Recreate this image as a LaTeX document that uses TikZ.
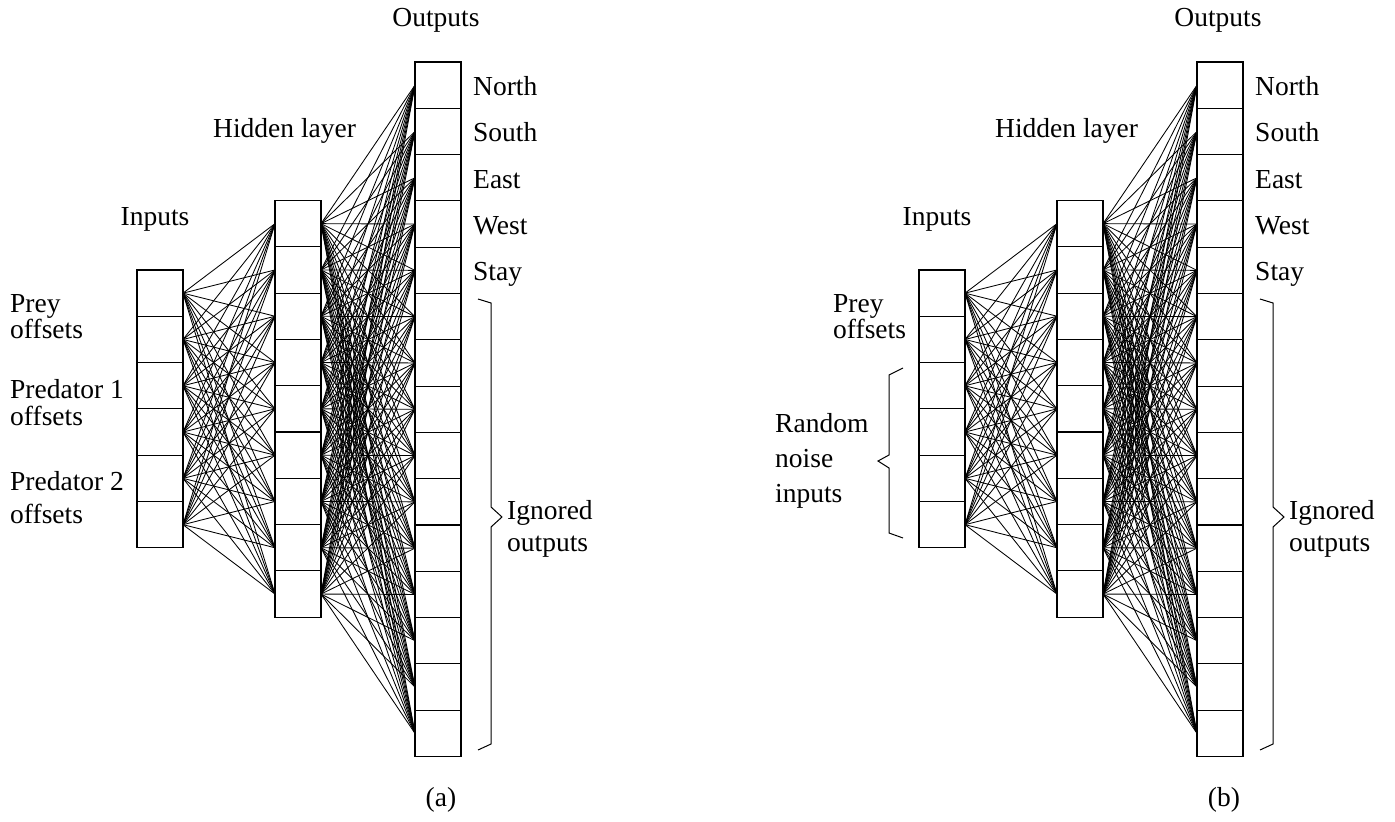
\documentclass[tikz,border=0pt]{standalone}
\usepackage{fontspec}
\setmainfont{Liberation Serif}
\begin{document}
\begin{tikzpicture}[x=1pt,y=-1pt,
  cell/.style={draw,line width=1.1pt,minimum width=46pt,minimum height=46.3pt,inner sep=0pt,outer sep=0pt},
  wire/.style={line width=0.85pt},
  lab/.style={font=\fontsize{27.5}{30}\selectfont,inner sep=0pt,anchor=base west},
  labc/.style={lab,anchor=base},
  bracket/.style={line width=1pt,line join=miter}]
\useasboundingbox (0,0) rectangle (1395,822);
\foreach \p/\dx in {a/0,b/782} {
  \foreach \i in {1,...,6}
    \node[cell] (\p-in-\i) at ({160+\dx},{270+46.3*(\i-0.5)}) {};
  \foreach \j in {1,...,9}
    \node[cell] (\p-hid-\j) at ({298+\dx},{200.5+46.3*(\j-0.5)}) {};
  \foreach \k in {1,...,15}
    \node[cell] (\p-out-\k) at ({438+\dx},{62+46.3*(\k-0.5)}) {};
  \foreach \i in {1,...,6}
    \foreach \j in {1,...,9}
      \draw[wire] (\p-in-\i.east) -- (\p-hid-\j.west);
  \foreach \j in {1,...,9}
    \foreach \k in {1,...,15}
      \draw[wire] (\p-hid-\j.east) -- (\p-out-\k.west);
  \foreach \t [count=\k] in {North,South,East,West,Stay}
    \node[lab] (\p-olab-\k) at ({473+\dx},{62+46.3*(\k-0.5)+10.5}) {\t};
  \node[labc] (\p-outputs) at ({436+\dx},26) {Outputs};
  \node[lab] (\p-hidden) at ({213+\dx},137) {Hidden layer};
  \node[labc] (\p-inputs) at ({155+\dx},225) {Inputs};
  \node[lab] (\p-ign1) at ({507+\dx},519) {Ignored};
  \node[lab] (\p-ign2) at ({507+\dx},551) {outputs};
  \draw[bracket] ({478+\dx},299) -- ({491+\dx},303) -- ({491+\dx},507) -- ({502+\dx},517)
     -- ({491+\dx},527) -- ({491+\dx},744) -- ({478+\dx},750);
}
\node[labc] (capa) at (441,806) {(a)};
\node[labc] (capb) at (1224,806) {(b)};
% panel (a) input labels
\node[lab] (a-l1) at (10,312) {Prey};
\node[lab] (a-l2) at (10,338) {offsets};
\node[lab] (a-l3) at (10,398) {Predator 1};
\node[lab] (a-l4) at (10,425) {offsets};
\node[lab] (a-l5) at (10,490) {Predator 2};
\node[lab] (a-l6) at (10,523) {offsets};
% panel (b) input labels
\node[lab] (b-l1) at (833,312) {Prey};
\node[lab] (b-l2) at (833,338) {offsets};
\node[lab] (b-l3) at (775,432) {Random};
\node[lab] (b-l4) at (775,467) {noise};
\node[lab] (b-l5) at (775,502) {inputs};
\draw[bracket] (903,368) -- (889,375) -- (889,455) -- (878,461) -- (889,468) -- (889,533) -- (903,538);
\end{tikzpicture}
\end{document}
